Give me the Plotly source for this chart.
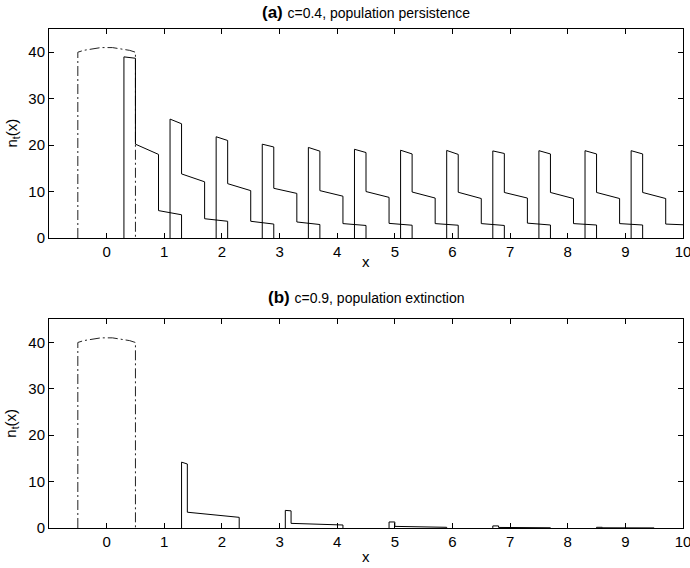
import plotly.graph_objects as go

# initial distribution on the patch [-0.5, 0.5]
x0 = [-0.5, -0.4, -0.3, -0.2, -0.1, 0.0, 0.1, 0.2, 0.3, 0.4, 0.5]
n0 = [40.0, 40.4, 40.6, 40.8, 41.0, 41.0, 41.0, 40.8, 40.6, 40.4, 40.0]

# (a) c=0.4 : generation start points and values on each piece
a_start = [0.3, 1.1, 1.9, 2.7, 3.5, 4.3, 5.1, 5.9, 6.7, 7.5, 8.3, 9.1]
a_breaks = [0.2, 0.6, 1.0]
a_hi = [(39.0, 38.7), (25.6, 24.6), (21.8, 21.0), (20.2, 19.6), (19.5, 18.7), (19.1, 18.4),
        (18.9, 18.1), (18.85, 18.0), (18.75, 18.2), (18.8, 18.1), (18.8, 18.1), (18.8, 18.1)]
a_mid = [(20.2, 18.0), (13.8, 12.1), (11.7, 10.2), (10.7, 9.6), (10.2, 9.0), (10.0, 8.75),
         (9.9, 8.6), (9.85, 8.5), (9.8, 8.6), (9.8, 8.5), (9.8, 8.5), (9.8, 8.5)]
a_lo = [(5.9, 5.0), (4.15, 3.6), (3.6, 3.0), (3.45, 2.9), (3.1, 2.7), (3.15, 2.75),
        (3.1, 2.75), (3.1, 2.7), (3.2, 2.8), (3.1, 2.8), (3.1, 2.8), (3.0, 2.8)]

# (b) c=0.9
b_start = [1.3, 3.1, 4.9, 6.7, 8.5]
b_breaks = [0.1, 1.0]
b_hi = [(14.2, 13.8), (3.8, 3.7), (1.3, 1.3), (0.45, 0.45), (0.15, 0.15)]
b_lo = [(3.4, 2.3), (1.0, 0.65), (0.35, 0.15), (0.12, 0.05), (0.04, 0.02)]

xticks = list(range(0, 11))
yticks = [0, 10, 20, 30, 40]


def gen_path(starts, breaks, pieces):
    xs, ys = [], []
    for g, s in enumerate(starts):
        left = s
        xs.append(s)
        ys.append(0)
        for b, piece in zip(breaks, pieces):
            v0, v1 = piece[g]
            xs += [left, s + b]
            ys += [v0, v1]
            left = s + b
        xs += [left, None]
        ys += [0, None]
    return xs, ys


ix = [x0[0]] + x0 + [x0[-1]]
iy = [0] + n0 + [0]

W, H = 690, 568
L, R, T, B = 49, 7, 29, 40
ph = H - T - B
dom_a = [1 - (238.3 - 29.3) / ph, 1]
dom_b = [0, (528 - 319.3) / ph]

fig = go.Figure()
panels = [("x", "y", a_start, a_breaks, [a_hi, a_mid, a_lo]),
          ("x2", "y2", b_start, b_breaks, [b_hi, b_lo])]
for xa, ya, starts, breaks, pieces in panels:
    fig.add_trace(go.Scatter(x=ix, y=iy, mode="lines", xaxis=xa, yaxis=ya,
                             line=dict(color="#222", width=1, dash="10px,3px,2px,3px")))
    gx, gy = gen_path(starts, breaks, pieces)
    fig.add_trace(go.Scatter(x=gx, y=gy, mode="lines", xaxis=xa, yaxis=ya,
                             line=dict(color="black", width=1)))

axis_style = dict(showline=True, linecolor="black", linewidth=1, mirror="ticks",
                  ticks="inside", ticklen=5, tickcolor="black", showgrid=False,
                  zeroline=False, automargin=False, ticklabeloverflow="allow",
                  tickfont=dict(size=15, color="black"))

fig.update_layout(
    xaxis=dict(range=[-1, 10], tickvals=xticks, anchor="y", **axis_style),
    yaxis=dict(range=[0, 45], tickvals=yticks, domain=dom_a, anchor="x", **axis_style),
    xaxis2=dict(range=[-1, 10], tickvals=xticks, anchor="y2", **axis_style),
    yaxis2=dict(range=[0, 45], tickvals=yticks, domain=dom_b, anchor="x2", **axis_style),
)

titles = ["<b>(a)</b> <span style='font-size:14px'>c=0.4, population persistence</span>",
          "<b>(b)</b> <span style='font-size:14px'>c=0.9, population extinction</span>"]
title_shift = [5, 10]
xlab_shift = [-13, -18]
for t, d, ts, xs in zip(titles, [dom_a, dom_b], title_shift, xlab_shift):
    fig.add_annotation(text=t, x=0.5, y=d[1], xref="paper", yref="paper", xanchor="center",
                       yanchor="bottom", yshift=ts, showarrow=False,
                       font=dict(size=17, color="black"))
    fig.add_annotation(text="x", x=0.5, y=d[0], xref="paper", yref="paper", xanchor="center",
                       yanchor="top", yshift=xs, showarrow=False,
                       font=dict(size=15, color="black"))
    fig.add_annotation(text="n<sub>t</sub>(x)", x=0, y=(d[0] + d[1]) / 2, xref="paper",
                       yref="paper", xanchor="center", yanchor="middle", xshift=-37,
                       textangle=-90, showarrow=False, font=dict(size=15, color="black"))

fig.update_layout(width=W, height=H, showlegend=False, plot_bgcolor="white",
                  paper_bgcolor="white", font=dict(family="Liberation Sans, Arial", color="black"),
                  margin=dict(l=L, r=R, t=T, b=B))
# drop the default page margin so the figure sits at the window's corner
fig.write_html("out.html", config={"displayModeBar": False},
               post_script="document.body.style.margin='0';")
